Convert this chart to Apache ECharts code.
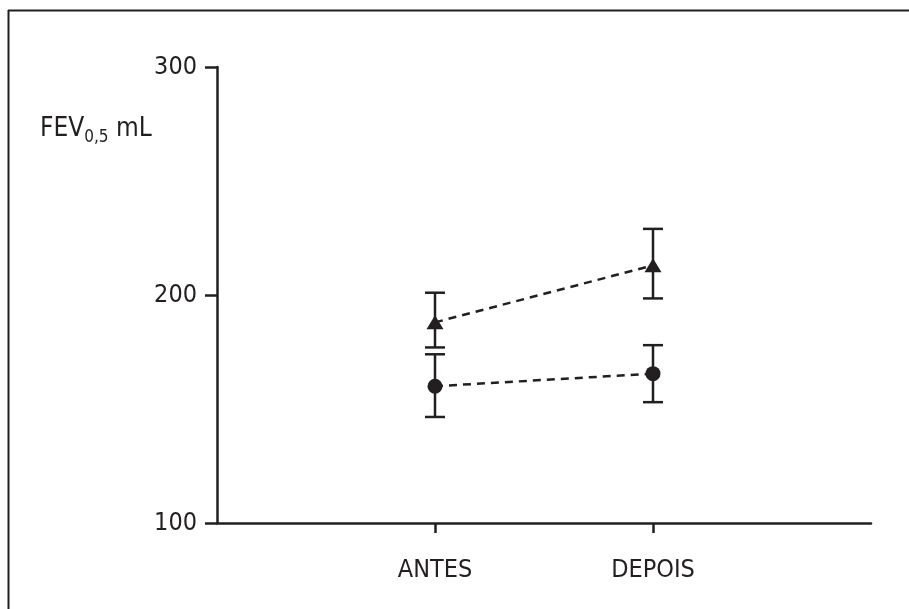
<!DOCTYPE html>
<html>
<head>
<meta charset="utf-8">
<script src="https://cdn.jsdelivr.net/npm/echarts@6/dist/echarts.min.js"></script>
<style>
  html, body { margin: 0; padding: 0; background: #fff; }
  #chart { width: 909px; height: 609px; }
</style>
</head>
<body>
<div id="chart"></div>
<script>
// categories on the x axis (empty ends give the spacing of the original)
var categories = ['', 'ANTES', 'DEPOIS', ''];
var yTicks = [100, 200, 300];

// triangle group
var triMean = [188, 213];
var triLow = [177, 198.5];
var triHigh = [201, 229];

// circle group
var circMean = [160, 165.5];
var circLow = [146.5, 153];
var circHigh = [174, 178];

var ink = '#231f20';
var font = "'Liberation Sans Narrow', 'DejaVu Sans Condensed', sans-serif";

function pairs(vals) {
    return vals.map(function (v, i) { return [i + 1, v]; });
}
function bars(low, high) {
    return low.map(function (v, i) { return [i + 1, v, high[i]]; });
}

function renderErr(params, api) {
    var x = api.value(0);
    var lo = api.coord([x, api.value(1)]);
    var hi = api.coord([x, api.value(2)]);
    var half = 10;
    var style = { stroke: ink, lineWidth: 2.5 };
    return {
        type: 'group',
        children: [
            { type: 'line', shape: { x1: lo[0], y1: lo[1], x2: hi[0], y2: hi[1] }, style: style },
            { type: 'line', shape: { x1: lo[0] - half, y1: lo[1], x2: lo[0] + half, y2: lo[1] }, style: style },
            { type: 'line', shape: { x1: hi[0] - half, y1: hi[1], x2: hi[0] + half, y2: hi[1] }, style: style }
        ]
    };
}

var chart = echarts.init(document.getElementById('chart'));
var option = {
    animation: false,
    backgroundColor: '#fff',
    grid: { left: 217, right: 38, top: 67, bottom: 86 },
    xAxis: {
        type: 'category',
        data: categories,
        boundaryGap: false,
        axisLine: { lineStyle: { color: ink, width: 2.5 } },
        axisTick: {
            length: 10,
            interval: function (i) { return i === 1 || i === 2; },
            lineStyle: { color: ink, width: 2.5 }
        },
        axisLabel: { color: ink, fontSize: 25, fontFamily: font, margin: 35, interval: 0 },
        splitLine: { show: false }
    },
    yAxis: {
        type: 'value',
        min: yTicks[0],
        max: yTicks[yTicks.length - 1],
        interval: 100,
        axisLine: { show: true, lineStyle: { color: ink, width: 2.5 } },
        axisTick: { show: true, length: 12, lineStyle: { color: ink, width: 2.5 } },
        axisLabel: { color: ink, fontSize: 25, fontFamily: font, margin: 20 },
        splitLine: { show: false }
    },
    graphic: [
        { type: 'line', shape: { x1: 8, y1: 10.5, x2: 909, y2: 10.5 }, style: { stroke: ink, lineWidth: 2 } },
        { type: 'line', shape: { x1: 8.5, y1: 10, x2: 8.5, y2: 609 }, style: { stroke: ink, lineWidth: 2 } },
        {
            type: 'text', left: 40, top: 116,
            style: {
                text: '{m|FEV}{s|0,5}{m| mL}',
                rich: {
                    m: { fontSize: 26, fontFamily: font, fill: ink, lineHeight: 34, verticalAlign: 'middle' },
                    s: { fontSize: 17, fontFamily: font, fill: ink, lineHeight: 22, verticalAlign: 'bottom' }
                }
            }
        }
    ],
    series: [
        {
            type: 'line', data: pairs(triMean), symbol: 'triangle', symbolSize: [17, 14],
            lineStyle: { color: ink, width: 2.5, type: [8, 6] }, itemStyle: { color: ink }, z: 3
        },
        {
            type: 'line', data: pairs(circMean), symbol: 'circle', symbolSize: 15,
            lineStyle: { color: ink, width: 2.5, type: [8, 6] }, itemStyle: { color: ink }, z: 3
        },
        { type: 'custom', renderItem: renderErr, data: bars(triLow, triHigh), z: 2 },
        { type: 'custom', renderItem: renderErr, data: bars(circLow, circHigh), z: 2 }
    ]
};
chart.setOption(option);
</script>
</body>
</html>
